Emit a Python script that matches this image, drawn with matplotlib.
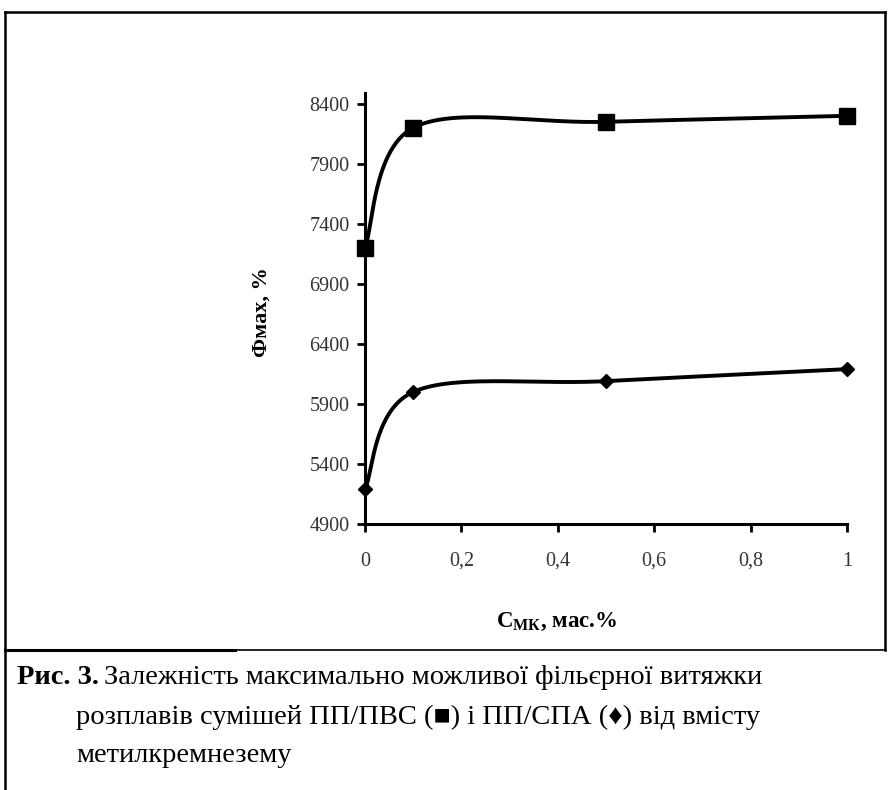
import numpy as np
import matplotlib.pyplot as plt
from matplotlib.lines import Line2D

plt.rcParams['font.family'] = ['Liberation Serif', 'DejaVu Serif']

# data
x_vals = [0, 0.1, 0.5, 1]
pp_pvs = [7200, 8200, 8250, 8300]   # squares
pp_spa = [5190, 6000, 6090, 6190]   # diamonds
x_ticks = [0, 0.2, 0.4, 0.6, 0.8, 1]
x_tick_labels = ['0', '0,2', '0,4', '0,6', '0,8', '1']
y_ticks = [4900, 5400, 5900, 6400, 6900, 7400, 7900, 8400]


def smooth(xs, ys, n=60):
    # Excel-like smoothed line: Catmull-Rom as cubic Bezier segments
    xs = np.asarray(xs, float)
    ys = np.asarray(ys, float)
    px = np.concatenate([[xs[0]], xs, [xs[-1]]])
    py = np.concatenate([[ys[0]], ys, [ys[-1]]])
    out_x, out_y = [], []
    t = np.linspace(0, 1, n)
    for i in range(1, len(px) - 2):
        p0 = np.array([px[i], py[i]])
        p3 = np.array([px[i + 1], py[i + 1]])
        c1 = p0 + (p3 - np.array([px[i - 1], py[i - 1]])) / 6
        c2 = p3 - (np.array([px[i + 2], py[i + 2]]) - p0) / 6
        b = ((1 - t) ** 3)[:, None] * p0 + (3 * (1 - t) ** 2 * t)[:, None] * c1 \
            + (3 * (1 - t) * t ** 2)[:, None] * c2 + (t ** 3)[:, None] * p3
        out_x.extend(b[:, 0])
        out_y.extend(b[:, 1])
    return out_x, out_y


fig = plt.figure(figsize=(8.93, 7.90), dpi=100)
W, H = 893, 790
ax = fig.add_axes([365 / W, 1 - 524 / H, (847 - 365) / W, (524 - 93) / H])

for ys, mk, ms in [(pp_pvs, 's', 11), (pp_spa, 'D', 7)]:
    sx, sy = smooth(x_vals, ys)
    ax.plot(sx, sy, color='black', lw=2.8, clip_on=False, zorder=3)
    ax.plot(x_vals, ys, linestyle='none', marker=mk, ms=ms, color='black',
            clip_on=False, zorder=4)

ax.set_xlim(0, 1)
ax.set_ylim(4900, 8490)
ax.set_xticks(x_ticks)
ax.set_xticklabels(x_tick_labels)
ax.set_yticks(y_ticks)
ax.spines['top'].set_visible(False)
ax.spines['right'].set_visible(False)
ax.spines['left'].set_linewidth(2.2)
ax.spines['bottom'].set_linewidth(2.2)
ax.tick_params(axis='both', direction='out', length=6, width=2, labelsize=14.5,
               labelcolor='#333333')
ax.tick_params(axis='x', pad=14)
ax.tick_params(axis='y', pad=5)

fig.text(262 / W, 1 - 312 / H, 'Фмах, %', rotation=90, ha='center', va='center',
         fontsize=16, fontweight='bold')
fig.text(557 / W, 1 - 622 / H, r'C$_{\mathregular{МК}}$, мас.%', ha='center', va='center',
         fontsize=16.5, fontweight='bold')

# frame lines of the figure box
def fline(x0, y0, x1, y1, lw):
    fig.add_artist(Line2D([x0 / W, x1 / W], [1 - y0 / H, 1 - y1 / H], color='black', lw=lw))

fline(5, 12, 885, 12, 1.8)
fline(5, 12, 5, 790, 1.8)
fline(885, 12, 885, 650, 1.8)
fline(5, 650, 235, 650, 2.2)
fline(235, 650, 886, 650, 1.2)

# caption
fig.text(17 / W, 1 - 678 / H, 'Рис. 3.', fontsize=20.5, fontweight='bold', va='center')
fig.text(104 / W, 1 - 678 / H, 'Залежність максимально можливої фільєрної витяжки',
         fontsize=20.5, va='center')
fig.text(76 / W, 1 - 717 / H, 'розплавів сумішей ПП/ПВС (\u25a0) і ПП/СПА (\u2666) від вмісту',
         fontsize=20.5, va='center')
fig.text(76 / W, 1 - 756 / H, 'метилкремнезему', fontsize=20.5, va='center')

fig.savefig('out.png', dpi=100)
